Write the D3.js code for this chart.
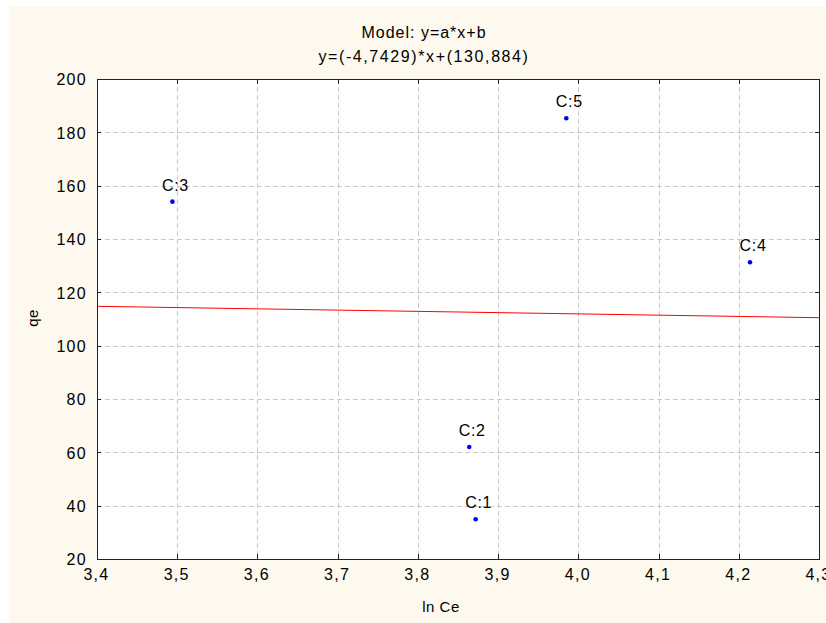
<!DOCTYPE html>
<html>
<head>
<meta charset="utf-8">
<script src="https://cdn.jsdelivr.net/npm/d3@7"></script>
<style>
  html, body { margin: 0; padding: 0; background: #ffffff; }
  svg { display: block; }
  text { font-family: "Liberation Sans", Arial, sans-serif; fill: #000; }
</style>
</head>
<body>
<svg id="chart" width="826" height="623"></svg>
<script>
// ---- data ----
const pointLabels = ["C:1", "C:2", "C:3", "C:4", "C:5"];
const lnCe = [3.872, 3.864, 3.494, 4.214, 3.985];
const qe = [34.9, 62.0, 154.0, 131.3, 185.3];
const slope = -4.7429;
const intercept = 130.884;
const xTicks = [3.4, 3.5, 3.6, 3.7, 3.8, 3.9, 4.0, 4.1, 4.2, 4.3];
const yTicks = [20, 40, 60, 80, 100, 120, 140, 160, 180, 200];
const titleLines = ["Model: y=a*x+b", "y=(-4,7429)*x+(130,884)"];
const xLabel = "ln Ce";
const yLabel = "qe";

// ---- layout ----
const W = 826, H = 623;
const plot = { left: 97, top: 79, right: 819, bottom: 559 };

const svg = d3.select("#chart");
svg.append("rect").attr("x", 9).attr("y", 7).attr("width", W - 9).attr("height", H - 7)
  .attr("fill", "#fdf9ee");
svg.append("rect").attr("x", plot.left).attr("y", plot.top)
  .attr("width", plot.right - plot.left).attr("height", plot.bottom - plot.top)
  .attr("fill", "#ffffff");

const x = d3.scaleLinear().domain([3.4, 4.3]).range([plot.left, plot.right]);
const y = d3.scaleLinear().domain([20, 200]).range([plot.bottom, plot.top]);
const fmt = d => d3.format(".1f")(d).replace(".", ",");

// grid
const grid = svg.append("g").attr("stroke", "#c8c8c8").attr("stroke-width", 1)
  .attr("stroke-dasharray", "5,3").attr("shape-rendering", "crispEdges");
grid.selectAll("line.v").data(xTicks.slice(1, -1)).join("line")
  .attr("x1", d => Math.round(x(d)) + 0.5).attr("x2", d => Math.round(x(d)) + 0.5)
  .attr("y1", plot.top).attr("y2", plot.bottom);
grid.selectAll("line.h").data(yTicks.slice(1, -1)).join("line")
  .attr("y1", d => Math.round(y(d)) + 0.5).attr("y2", d => Math.round(y(d)) + 0.5)
  .attr("x1", plot.left).attr("x2", plot.right);

// regression line
const xd = x.domain();
svg.append("line")
  .attr("x1", x(xd[0])).attr("y1", y(slope * xd[0] + intercept))
  .attr("x2", x(xd[1])).attr("y2", y(slope * xd[1] + intercept))
  .attr("stroke", "#ff0000").attr("stroke-width", 1);

// axes (ticks point inward)
const xAxis = d3.axisBottom(x).tickValues(xTicks).tickFormat(fmt).tickSize(-5).tickSizeOuter(0).tickPadding(10);
const yAxis = d3.axisLeft(y).tickValues(yTicks).tickFormat(d3.format("d")).tickSize(-4).tickSizeOuter(0).tickPadding(10);
const gx = svg.append("g").attr("transform", `translate(0,${plot.bottom})`).call(xAxis);
const gy = svg.append("g").attr("transform", `translate(${plot.left},0)`).call(yAxis);
[gx, gy].forEach(g => {
  g.selectAll("path,line").attr("stroke", "#222").attr("shape-rendering", "crispEdges");
  g.selectAll("text").attr("font-size", 16).attr("letter-spacing", 1.3)
    .attr("font-family", "Liberation Sans, Arial, sans-serif").attr("fill", "#000");
});
gx.selectAll("text").attr("dx", -1);
gy.selectAll("text").attr("dx", 0).attr("dy", "0.36em");
// inward ticks on top and right
svg.append("g").selectAll("line").data(xTicks).join("line")
  .attr("x1", d => Math.round(x(d)) + 0.5).attr("x2", d => Math.round(x(d)) + 0.5)
  .attr("y1", plot.top).attr("y2", plot.top + 5)
  .attr("stroke", "#222").attr("shape-rendering", "crispEdges");
svg.append("g").selectAll("line").data(yTicks).join("line")
  .attr("y1", d => Math.round(y(d)) + 0.5).attr("y2", d => Math.round(y(d)) + 0.5)
  .attr("x1", plot.right - 4).attr("x2", plot.right)
  .attr("stroke", "#222").attr("shape-rendering", "crispEdges");
// frame
svg.append("rect").attr("x", plot.left + 0.5).attr("y", plot.top + 0.5)
  .attr("width", plot.right - plot.left).attr("height", plot.bottom - plot.top)
  .attr("fill", "none").attr("stroke", "#222").attr("shape-rendering", "crispEdges");

// points
const pts = pointLabels.map((l, i) => ({ l, x: lnCe[i], y: qe[i] }));
svg.append("g").selectAll("circle").data(pts).join("circle")
  .attr("cx", d => x(d.x)).attr("cy", d => y(d.y)).attr("r", 2.3).attr("fill", "#0000ff");
svg.append("g").selectAll("text").data(pts).join("text")
  .attr("x", d => x(d.x) + 3).attr("y", d => y(d.y) - 11)
  .attr("text-anchor", "middle").attr("font-size", 16).attr("letter-spacing", 0.7).text(d => d.l);

// titles
svg.append("g").selectAll("text").data(titleLines).join("text")
  .attr("x", 424).attr("y", (d, i) => 38 + i * 24)
  .attr("text-anchor", "middle").attr("font-size", 16).attr("letter-spacing", (d, i) => i ? 1.6 : 1).text(d => d);
svg.append("text").attr("x", 441).attr("y", 612).attr("text-anchor", "middle")
  .attr("font-size", 15).attr("letter-spacing", 0.5).text(xLabel);
svg.append("text").attr("transform", "translate(38,318) rotate(-90)")
  .attr("text-anchor", "middle").attr("font-size", 15).attr("letter-spacing", 0.5).text(yLabel);
</script>
</body>
</html>
